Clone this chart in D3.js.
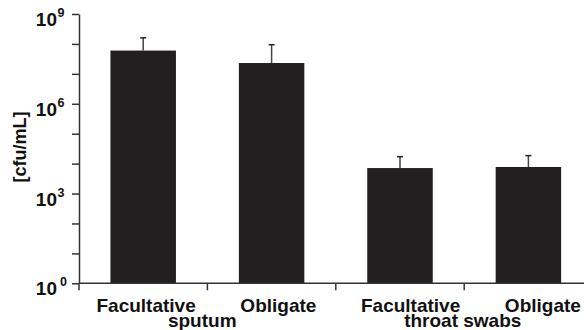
<!DOCTYPE html>
<html>
<head>
<meta charset="utf-8">
<script src="https://cdn.jsdelivr.net/npm/d3@7"></script>
<style>
  html, body { margin: 0; padding: 0; background: #fff; }
  svg { display: block; font-family: "Liberation Sans", Arial, Helvetica, sans-serif; font-weight: bold; }
</style>
</head>
<body>
<svg id="chart" width="584" height="330"></svg>
<script>
// Bacterial counts per sample type (cfu/mL), mean and upper error limit
const barIds = ["sputum-fac", "sputum-obl", "throat-fac", "throat-obl"];
const barLabels = ["Facultative", "Obligate", "Facultative", "Obligate"];
const groups = ["sputum", "throat swabs"];
const meanValues = [6.0e7, 2.3e7, 7100, 7700];
const upperValues = [1.6e8, 9.4e7, 1.7e4, 1.85e4];
const decadeTicks = [1, 1e1, 1e2, 1e3, 1e4, 1e5, 1e6, 1e7, 1e8, 1e9];
const labelledExponents = [0, 3, 6, 9];
const yTitle = "[cfu/mL]";

const svg = d3.select("#chart");
const axisColor = "#333";
const barColor = "#231f20";

const y = d3.scaleLog().domain([1, 1e9]).range([283.3, 14]);
const x = d3.scaleBand().domain(barIds).range([79, 592.6])
  .paddingInner(0.49).paddingOuter(0.245);
const labelX = d3.scaleBand().domain(barIds).range([80, 609]);
const groupX = d3.scaleBand().domain(groups).range([72, 593]);

const data = barIds.map((id, i) => ({ id, label: barLabels[i], mean: meanValues[i], upper: upperValues[i] }));

// Bars
svg.append("g").selectAll("rect").data(data).join("rect")
  .attr("x", d => x(d.id))
  .attr("width", x.bandwidth())
  .attr("y", d => y(d.mean))
  .attr("height", d => y(1) - y(d.mean))
  .attr("fill", barColor);

// Error bars (upper only)
const err = svg.append("g").attr("stroke", "#444").attr("stroke-width", 1.5);
err.selectAll("line.stem").data(data).join("line").attr("class", "stem")
  .attr("x1", d => x(d.id) + x.bandwidth() / 2)
  .attr("x2", d => x(d.id) + x.bandwidth() / 2)
  .attr("y1", d => y(d.mean))
  .attr("y2", d => y(d.upper));
err.selectAll("line.cap").data(data).join("line").attr("class", "cap")
  .attr("x1", d => x(d.id) + x.bandwidth() / 2 - 3)
  .attr("x2", d => x(d.id) + x.bandwidth() / 2 + 3)
  .attr("y1", d => y(d.upper))
  .attr("y2", d => y(d.upper))
  .attr("stroke", "#222");

// Y axis with a tick at each decade
const yAxis = svg.append("g").attr("transform", "translate(79,0)")
  .call(d3.axisLeft(y).tickValues(decadeTicks).tickFormat("").tickSize(7).tickSizeOuter(0));
yAxis.select(".domain").attr("stroke", axisColor).attr("stroke-width", 1.5);
yAxis.selectAll(".tick line").attr("stroke", axisColor).attr("stroke-width", 1.5);

// Power-of-ten labels
const yLab = svg.append("g").attr("fill", "#111");
labelledExponents.forEach(e => {
  const ty = y(Math.pow(10, e));
  yLab.append("text")
    .attr("x", 57).attr("y", ty + 12)
    .attr("text-anchor", "end")
    .attr("font-size", 19)
    .text("10");
  yLab.append("text")
    .attr("x", e === 0 ? 60 : 57.5).attr("y", ty + 3)
    .attr("font-size", 12.5)
    .text(String(e));
});

// X axis line and band boundary ticks
const xAxis = svg.append("g").attr("stroke", axisColor).attr("stroke-width", 1.5);
xAxis.append("line")
  .attr("x1", x.range()[0]).attr("x2", x.range()[1])
  .attr("y1", y(1)).attr("y2", y(1));
const boundaries = d3.range(barIds.length + 1).map(i => x.range()[0] + i * x.step());
xAxis.selectAll("line.tick").data(boundaries).join("line").attr("class", "tick")
  .attr("x1", d => d).attr("x2", d => d)
  .attr("y1", y(1)).attr("y2", y(1) + 7);

// Category labels
svg.append("g").selectAll("text").data(data).join("text")
  .attr("x", d => labelX(d.id) + labelX.bandwidth() / 2)
  .attr("y", 311.5)
  .attr("text-anchor", "middle")
  .attr("font-size", 19)
  .attr("fill", "#111")
  .text(d => d.label);

// Sample type labels
svg.append("g").selectAll("text").data(groups).join("text")
  .attr("x", d => groupX(d) + groupX.bandwidth() / 2)
  .attr("y", 326.5)
  .attr("text-anchor", "middle")
  .attr("font-size", 19)
  .attr("fill", "#111")
  .text(d => d);

// Y axis title
svg.append("text")
  .attr("transform", "translate(26,147) rotate(-90)")
  .attr("text-anchor", "middle")
  .attr("font-size", 18)
  .attr("fill", "#111")
  .text(yTitle);
</script>
</body>
</html>
